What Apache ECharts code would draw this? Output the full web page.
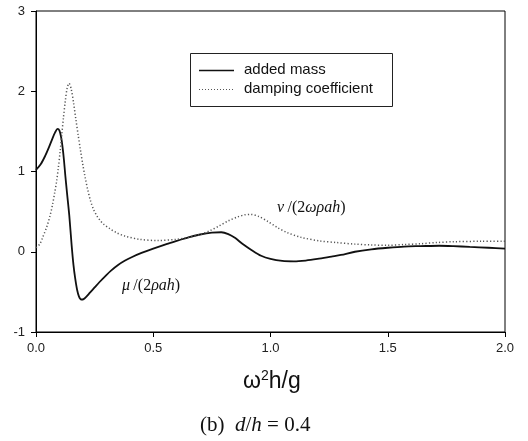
<!DOCTYPE html>
<html>
<head>
<meta charset="utf-8">
<script src="https://cdn.jsdelivr.net/npm/echarts@6/dist/echarts.min.js"></script>
<style>html,body{margin:0;padding:0;background:#fff;}#c{width:528px;height:441px;}</style>
</head>
<body>
<div id="c"></div>
<script>
// x-axis ticks
var xTicks = [0.0, 0.5, 1.0, 1.5, 2.0];
var yTicks = [-1, 0, 1, 2, 3];

// added mass  mu/(2 rho a h)
var massX = [0.00,0.02,0.04,0.055,0.07,0.082,0.092,0.100,0.107,0.113,0.119,0.125,0.132,0.142,0.152,0.16,0.167,0.175,0.183,0.193,0.203,0.215,0.23,0.25,0.27,0.30,0.32,0.35,0.38,0.41,0.45,0.50,0.55,0.60,0.65,0.70,0.75,0.79,0.82,0.85,0.88,0.92,0.96,1.00,1.05,1.10,1.15,1.20,1.26,1.30,1.36,1.43,1.50,1.57,1.64,1.72,1.78,1.85,1.93,2.00];
var massY = [1.02,1.09,1.20,1.30,1.41,1.49,1.53,1.51,1.43,1.31,1.15,0.95,0.74,0.45,0.08,-0.17,-0.33,-0.47,-0.555,-0.595,-0.59,-0.56,-0.51,-0.445,-0.38,-0.29,-0.235,-0.165,-0.11,-0.065,-0.015,0.04,0.09,0.135,0.18,0.215,0.238,0.243,0.22,0.17,0.10,0.02,-0.05,-0.09,-0.115,-0.12,-0.11,-0.09,-0.06,-0.04,0.00,0.03,0.05,0.065,0.07,0.075,0.07,0.06,0.05,0.04];

// damping coefficient  nu/(2 omega rho a h)
var dampX = [0.00,0.017,0.03,0.046,0.06,0.07,0.08,0.088,0.095,0.103,0.11,0.117,0.125,0.133,0.141,0.15,0.16,0.17,0.18,0.19,0.20,0.21,0.22,0.232,0.245,0.26,0.275,0.29,0.316,0.345,0.38,0.44,0.52,0.60,0.66,0.70,0.74,0.78,0.82,0.86,0.89,0.915,0.95,0.99,1.03,1.07,1.13,1.21,1.28,1.36,1.43,1.50,1.57,1.64,1.71,1.78,1.90,2.00];
var dampY = [0.05,0.10,0.19,0.31,0.45,0.58,0.74,0.88,1.04,1.25,1.46,1.67,1.88,2.04,2.10,2.03,1.86,1.65,1.45,1.26,1.08,0.92,0.78,0.64,0.53,0.445,0.385,0.34,0.285,0.235,0.195,0.155,0.14,0.155,0.185,0.215,0.26,0.32,0.385,0.435,0.46,0.465,0.44,0.375,0.30,0.24,0.18,0.135,0.115,0.095,0.085,0.08,0.09,0.10,0.115,0.125,0.13,0.13];

var seriesNames = ['added mass', 'damping coefficient'];

function pairs(xs, ys){ return xs.map(function(x,i){ return [x, ys[i]]; }); }

var chart = echarts.init(document.getElementById('c'), null, {renderer:'canvas'});
var sans = 'Liberation Sans, Arial';
var serif = 'Liberation Serif, Times New Roman';
chart.setOption({
  animation:false,
  backgroundColor:'#fff',
  grid:{left:36, right:23, top:11, bottom:109, show:true, borderColor:'#000', borderWidth:1, backgroundColor:'transparent'},
  xAxis:{
    type:'value', min:xTicks[0], max:xTicks[xTicks.length-1], interval:0.5,
    axisLine:{show:true, onZero:false, lineStyle:{color:'#000', width:1}},
    axisTick:{show:true, inside:false, length:5, lineStyle:{color:'#000'}},
    axisLabel:{margin:10, fontFamily:sans, fontSize:13, color:'#222', formatter:function(v){return v.toFixed(1);}},
    splitLine:{show:false}
  },
  yAxis:{
    type:'value', min:yTicks[0], max:yTicks[yTicks.length-1], interval:1,
    axisLine:{show:true, onZero:false, lineStyle:{color:'#000', width:1}},
    axisTick:{show:true, inside:false, length:5, lineStyle:{color:'#000'}},
    axisLabel:{margin:11, fontFamily:sans, fontSize:13, color:'#222'},
    splitLine:{show:false}
  },
  series:[
    {name:seriesNames[0], type:'line', data:pairs(massX, massY), showSymbol:false, symbol:'none', smooth:0.3,
     lineStyle:{color:'#111', width:1.8, type:'solid'}, itemStyle:{color:'#111'}},
    {name:seriesNames[1], type:'line', data:pairs(dampX, dampY), showSymbol:false, symbol:'none', smooth:0.3,
     lineStyle:{color:'#555', width:1.5, type:[1.2,2.2]}, itemStyle:{color:'#555'}}
  ],
  graphic:[
    // legend box
    {type:'rect', shape:{x:190.5, y:53.5, width:202, height:53}, style:{fill:'#fff', stroke:'#222', lineWidth:1}, z:10},
    {type:'line', shape:{x1:199, y1:70.5, x2:234, y2:70.5}, style:{stroke:'#111', lineWidth:1.5}, z:11},
    {type:'line', shape:{x1:199, y1:89.5, x2:234, y2:89.5}, style:{stroke:'#555', lineWidth:1.2, lineDash:[1,2]}, z:11},
    {type:'text', x:244, y:62, style:{text:seriesNames[0], fontFamily:sans, fontSize:15, fill:'#111'}, z:11},
    {type:'text', x:244, y:81, style:{text:seriesNames[1], fontFamily:sans, fontSize:15, fill:'#111'}, z:11},
    // axis title
    {type:'text', x:243, y:369, style:{
      text:'{a|ω}{s|2}{a|h/g}',
      rich:{a:{fontFamily:sans, fontSize:23, fill:'#111', verticalAlign:'bottom'},
            s:{fontFamily:sans, fontSize:14, fill:'#111', verticalAlign:'top', padding:[0,0,10,0]}}
    }},
    // caption
    {type:'text', x:200, y:415, style:{
      text:'{n|(b)  }{i|d}{n|/}{i|h}{n| = 0.4}',
      rich:{n:{fontFamily:serif, fontSize:21, fill:'#111'},
            i:{fontFamily:serif, fontSize:21, fontStyle:'italic', fill:'#111'}}
    }},
    // curve annotations
    {type:'text', x:277, y:200, style:{
      text:'{i|ν} {n|/(2}{i|ωρah}{n|)}',
      rich:{n:{fontFamily:serif, fontSize:16, fill:'#111'},
            i:{fontFamily:serif, fontSize:16, fontStyle:'italic', fill:'#111'}}
    }},
    {type:'text', x:122, y:278, style:{
      text:'{i|μ} {n|/(2}{i|ρah}{n|)}',
      rich:{n:{fontFamily:serif, fontSize:16, fill:'#111'},
            i:{fontFamily:serif, fontSize:16, fontStyle:'italic', fill:'#111'}}
    }}
  ]
});
</script>
</body>
</html>
